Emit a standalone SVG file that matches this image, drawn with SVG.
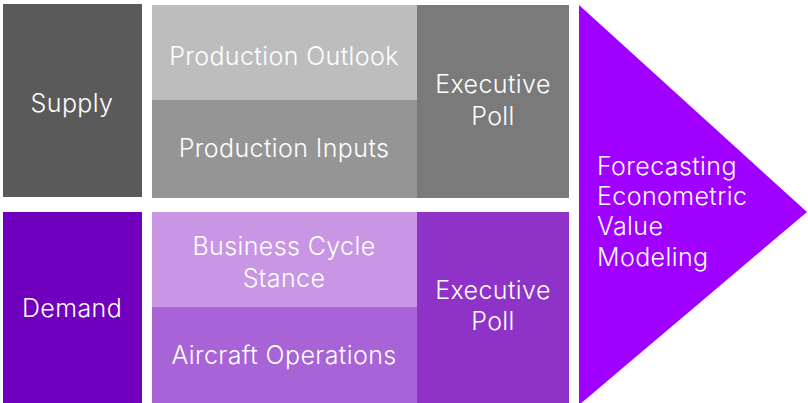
<svg xmlns="http://www.w3.org/2000/svg" width="808" height="403" viewBox="0 0 808 403">
<style>
text{font-family:Inter,"Liberation Sans",sans-serif;font-size:25px;font-weight:300;letter-spacing:0.4px;fill:#ffffff;}
.c{text-anchor:middle;}
</style>
<rect width="808" height="403" fill="#ffffff"/>
<g id="supply"><rect x="3" y="4" width="139" height="193" fill="#5a5a5a"/><text class="c" x="72" y="112">Supply</text></g>
<g id="production-outlook"><rect x="152" y="5" width="265" height="95" fill="#bdbdbd"/><text class="c" x="284" y="65">Production Outlook</text></g>
<g id="production-inputs"><rect x="152" y="100" width="265" height="98" fill="#959595"/><text class="c" x="284" y="157">Production Inputs</text></g>
<g id="executive-poll-supply"><rect x="417" y="5" width="152" height="193" fill="#7a7a7a"/><text class="c" x="493" y="93">Executive</text><text class="c" x="493" y="125">Poll</text></g>
<g id="demand"><rect x="3" y="212" width="139" height="191" fill="#7000be"/><text class="c" x="72" y="317">Demand</text></g>
<g id="business-cycle"><rect x="152" y="212" width="265" height="95" fill="#c896e4"/><text class="c" x="284" y="255">Business Cycle</text><text class="c" x="284" y="287">Stance</text></g>
<g id="aircraft-operations"><rect x="152" y="307" width="265" height="96" fill="#a864d6"/><text class="c" x="284" y="364">Aircraft Operations</text></g>
<g id="executive-poll-demand"><rect x="417" y="212" width="152" height="191" fill="#8f32c8"/><text class="c" x="493" y="299">Executive</text><text class="c" x="493" y="330">Poll</text></g>
<g id="forecasting"><polygon points="579,5 807,212 579,405" fill="#a000ff"/><text x="597" y="175">Forecasting</text><text x="597" y="205">Econometric</text><text x="597" y="235">Value</text><text x="597" y="266">Modeling</text></g>
<g id="connectors"></g>
</svg>
